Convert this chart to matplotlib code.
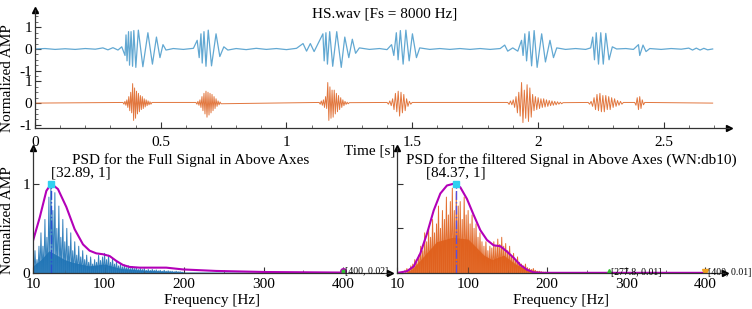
import numpy as np
import matplotlib
matplotlib.use("Agg")
import matplotlib.pyplot as plt
from matplotlib.ticker import MultipleLocator, FixedLocator

plt.rcParams['font.family'] = ['Liberation Serif', 'DejaVu Serif']
plt.rcParams['font.size'] = 11

# ---- time traces ----
# raw heart sound, upper trace: explicit (time, amplitude) vertices
blue_t = [0.00, 0.04, 0.08, 0.12, 0.16, 0.20, 0.24, 0.27, 0.29, 0.31, 0.33, 0.345, 0.352, 0.358,
          0.362, 0.366, 0.372, 0.376, 0.382, 0.388, 0.393, 0.401, 0.411, 0.429, 0.449, 0.467,
          0.483, 0.497, 0.509, 0.521, 0.55, 0.59, 0.63, 0.645, 0.653, 0.660, 0.665, 0.672, 0.680,
          0.689, 0.702, 0.720, 0.735, 0.751, 0.767, 0.80, 0.84, 0.88, 0.92, 0.96, 1.00, 1.04,
          1.066, 1.08, 1.095, 1.11, 1.13, 1.145, 1.150, 1.157, 1.163, 1.172, 1.184, 1.200, 1.218,
          1.232, 1.248, 1.262, 1.275, 1.29, 1.33, 1.37, 1.40, 1.418, 1.427, 1.437, 1.444, 1.453,
          1.464, 1.475, 1.488, 1.501, 1.517, 1.530, 1.57, 1.61, 1.65, 1.69, 1.73, 1.77, 1.81,
          1.85, 1.868, 1.880, 1.90, 1.92, 1.935, 1.941, 1.948, 1.955, 1.965, 1.975, 1.985, 1.997,
          2.015, 2.030, 2.048, 2.062, 2.075, 2.11, 2.15, 2.19, 2.21, 2.218, 2.225, 2.232, 2.241,
          2.250, 2.260, 2.270, 2.283, 2.296, 2.313, 2.35, 2.38, 2.400, 2.405, 2.418, 2.430, 2.445,
          2.49, 2.53, 2.57, 2.60, 2.615, 2.63, 2.645, 2.66, 2.675, 2.695]
blue_a = [0.0, 0.02, -0.02, 0.01, -0.02, 0.02, -0.01, 0.05, -0.04, 0.06, -0.05, 0.1, -0.12, -0.3,
          0.65, -0.55, 0.8, -0.75, 0.8, -0.8, 0.85, -0.85, 0.87, -0.82, 0.75, -0.7,
          0.55, -0.4, 0.2, -0.05, 0.02, -0.02, 0.03, 0.4, -0.4, 0.7, -0.65, 0.8, -0.8,
          0.87, -0.78, 0.7, -0.35, 0.1, -0.05, 0.02, -0.03, 0.03, -0.02, 0.02, -0.03, 0.03,
          0.25, -0.1, 0.25, -0.12, 0.35, 0.7, -0.55, 0.75, -0.7, 0.8, -0.8, 0.8, -0.85,
          0.55, -0.4, 0.45, -0.2, 0.05, -0.02, 0.02, -0.03, 0.2, -0.3, 0.75, -0.5, 0.85,
          -0.7, 0.87, -0.55, 0.7, -0.4, 0.05, -0.02, 0.02, -0.02, 0.02, -0.02, 0.02, -0.02,
          0.02, 0.18, -0.1, 0.05, -0.1, 0.4, -0.3, 0.7, -0.55, 0.8, -0.78, 0.85, -0.85,
          0.7, -0.6, 0.4, -0.4, 0.05, -0.02, 0.02, -0.02, 0.05, 0.55, -0.5, 0.75, -0.7,
          0.75, -0.7, 0.72, -0.5, 0.1, 0.0, 0.02, -0.02, 0.2, -0.3, 0.18, -0.12, 0.02,
          -0.02, 0.02, -0.01, 0.04, -0.05, 0.04, -0.05, 0.03, -0.04, 0.0]

# filtered trace: bursts as (start, end) and sampled amplitudes
burst_span = [(0.35, 0.465), (0.64, 0.74), (1.13, 1.25), (1.40, 1.50),
              (1.88, 2.10), (2.20, 2.34), (2.385, 2.425)]
burst_amp = [
    [0.03, -0.05, 0.08, -0.1, 0.15, -0.2, 0.3, -0.35, 0.5, -0.45, 0.9, -0.8, 0.7, -0.7, 0.55, -0.5,
     0.45, -0.4, 0.35, -0.3, 0.3, -0.25, 0.2, -0.18, 0.15, -0.12, 0.1, -0.08, 0.06, -0.05, 0.03],
    [0.03, -0.05, 0.08, -0.1, 0.15, -0.2, 0.3, -0.35, 0.45, -0.5, 0.55, -0.65, 0.5, -0.55, 0.45,
     -0.45, 0.4, -0.35, 0.3, -0.25, 0.2, -0.15, 0.1, -0.08, 0.05, -0.03],
    [0.03, -0.05, 0.1, -0.1, 0.15, -0.2, 0.3, -0.25, 0.95, -0.8, 0.75, -0.7, 0.6, -0.65, 0.6, -0.5,
     0.45, -0.4, 0.35, -0.3, 0.25, -0.2, 0.15, -0.12, 0.08, -0.06, 0.04, -0.03, 0.02],
    [0.03, -0.05, 0.1, -0.12, 0.2, -0.3, 0.45, -0.4, 0.55, -0.6, 0.5, -0.45, 0.4, -0.35, 0.2,
     -0.15, 0.08, -0.05, 0.03],
    [0.03, -0.06, 0.1, -0.08, 0.15, -0.2, 0.3, -0.45, 0.5, -0.6, 0.95, -0.9, 0.6, -0.7, 0.85, -0.85,
     0.7, -0.65, 0.4, -0.35, 0.3, -0.3, 0.25, -0.25, 0.2, -0.2, 0.2, -0.18, 0.15, -0.15, 0.12,
     -0.12, 0.1, -0.1, 0.08, -0.08, 0.06, -0.05, 0.04, -0.03, 0.02],
    [0.03, -0.05, 0.08, -0.15, 0.25, -0.3, 0.4, -0.35, 0.45, -0.4, 0.35, -0.4, 0.35, -0.3, 0.3,
     -0.3, 0.25, -0.2, 0.2, -0.15, 0.12, -0.1, 0.08, -0.05, 0.03],
    [0.03, -0.1, 0.25, -0.3, 0.3, -0.25, 0.15, -0.08, 0.03],
]
t_end = 2.695

# ---- PSD panels ----
env_full_f = [10, 18.4, 26.8, 33.0, 41.4, 51.9, 62.4, 72.9, 81.2, 89.6, 98.0, 106.4, 114.8,
              123.1, 131.5, 144.1, 177.6, 198.6, 240.5, 303.3, 400]
env_full = [0.36, 0.62, 0.92, 1.0, 0.94, 0.74, 0.49, 0.32, 0.25, 0.22, 0.21, 0.19, 0.135,
            0.09, 0.068, 0.06, 0.06, 0.04, 0.023, 0.011, 0.005]
spk_full = [0.1, 0.25, 0.15, 0.3, 0.45, 0.3, 0.6, 0.4, 0.85, 1.0, 0.7, 0.9, 0.5, 0.75,
            0.4, 0.6, 0.35, 0.5, 0.3, 0.45, 0.25, 0.35, 0.2, 0.3, 0.18, 0.25, 0.15, 0.2,
            0.12, 0.18, 0.1, 0.15, 0.12, 0.2, 0.14, 0.18, 0.22, 0.15, 0.2, 0.12, 0.16, 0.1, 0.13, 0.08,
            0.1, 0.07, 0.09, 0.06, 0.08, 0.05, 0.07, 0.05, 0.06, 0.04, 0.05, 0.04,
            0.05, 0.03, 0.04, 0.03, 0.04, 0.03, 0.035, 0.025, 0.03, 0.02, 0.03, 0.02, 0.025, 0.02,
            0.02, 0.015, 0.02, 0.015, 0.015, 0.01]
floor_full_f = [10, 20, 30, 40, 50, 60, 80, 100, 120, 150, 200, 400]
floor_full = [0.08, 0.15, 0.25, 0.2, 0.15, 0.12, 0.08, 0.1, 0.05, 0.03, 0.01, 0.005]

env_filt_f = [10, 22.6, 31.1, 39.5, 47.9, 56.4, 64.8, 73.2, 81.7, 90.1, 98.5, 107.0, 115.4,
              123.8, 132.3, 140.7, 149.1, 157.6, 166.0, 174.4, 182.9, 195.5, 400]
env_filt = [0.0, 0.02, 0.074, 0.22, 0.44, 0.70, 0.89, 0.98, 1.0, 0.96, 0.83, 0.65, 0.48,
            0.37, 0.31, 0.30, 0.24, 0.17, 0.09, 0.037, 0.007, 0.002, 0.002]
spk_filt = [0.03, 0.05, 0.04, 0.08, 0.1, 0.15, 0.12, 0.2, 0.3, 0.25, 0.45, 0.35,
            0.5, 0.4, 0.6, 0.45, 0.55, 0.75, 0.5, 0.7, 0.6, 0.85, 0.65, 0.8,
            0.95, 0.7, 0.9, 0.75, 0.8, 0.6, 0.85, 0.65, 0.7, 0.55, 0.65, 0.5,
            0.55, 0.4, 0.45, 0.35, 0.3, 0.35, 0.25, 0.3, 0.28, 0.35, 0.3, 0.38,
            0.32, 0.4, 0.3, 0.33, 0.25, 0.3, 0.2, 0.22, 0.15, 0.18, 0.12, 0.1,
            0.08, 0.1, 0.06, 0.05, 0.04, 0.05, 0.03, 0.02, 0.02, 0.015, 0.01, 0.01]
floor_filt_f = [20, 30, 40, 50, 60, 80, 100, 120, 130, 145, 160, 175, 190, 200]
floor_filt = [0.0, 0.05, 0.15, 0.25, 0.35, 0.4, 0.38, 0.2, 0.15, 0.2, 0.1, 0.04, 0.01, 0.0]

peak_full = (32.89, 1)
peak_filt = (84.37, 1)
end_full = (400, 0.02)
mark_filt = [(277.8, 0.01), (400, 0.01)]

c_blue_t = '#62a8d2'
c_orng_t = '#e2773f'
c_blue = '#1f74b6'
c_orng = '#e0601c'
c_mag = '#b300b8'
off = 2.5


def arrow_axes(ax):
    for s in ['top', 'right']:
        ax.spines[s].set_visible(False)
    for s in ['left', 'bottom']:
        ax.spines[s].set_color('#333333')
        ax.spines[s].set_linewidth(0.9)
    ax.plot(1, 0, '>', color='k', ms=5, transform=ax.transAxes, clip_on=False)
    ax.plot(0, 1, '^', color='k', ms=5, transform=ax.transAxes, clip_on=False)
    ax.tick_params(direction='in', length=4, width=0.8, colors='#333333', labelcolor='k')
    ax.tick_params(which='minor', direction='in', length=2, width=0.6, colors='#555555')
    ax.tick_params(axis='y', pad=2)
    ax.patch.set_alpha(0)


fig = plt.figure(figsize=(7.52, 3.09), dpi=100)

# ---- top: waveforms ----
ax = fig.add_axes([35 / 752, 181 / 309, 694 / 752, 118 / 309])
ax.plot(blue_t, np.array(blue_a) + off, color=c_blue_t, lw=0.9)
ot, oa = [0.0], [0.0]
for (t0, t1), amps in zip(burst_span, burst_amp):
    ot += list(np.linspace(t0, t1, len(amps)))
    oa += amps
ot.append(t_end)
oa.append(0.0)
ax.plot(ot, oa, color=c_orng_t, lw=0.7)
ax.set_xlim(0, 2.76)
ax.set_ylim(-1.15, 4.3)
ax.set_xticks([0, 0.5, 1, 1.5, 2, 2.5])
ax.set_xticklabels(['0', '0.5', '1', '1.5', '2', '2.5'])
ax.xaxis.set_minor_locator(MultipleLocator(0.1))
ax.set_yticks([-1, 0, 1, off - 1, off, off + 1])
ax.set_yticklabels(['-1', '0', '1', '-1', '0', '1'])
ax.yaxis.set_minor_locator(MultipleLocator(0.25))
arrow_axes(ax)
ax.tick_params(axis='x', pad=6)
ax.set_ylabel('Normalized AMP')
ax.yaxis.set_label_coords((14 - 35) / 694, 0.42)
fig.text(385 / 752, 1 - 14 / 309, 'HS.wav [Fs = 8000 Hz]', ha='center', va='center')
fig.text(370 / 752, 1 - 151 / 309, 'Time [s]', ha='center', va='center')


def psd_panel(rect, spk_f, spk, fl_f, fl, env_f, env, col, tx):
    a = fig.add_axes(rect)
    a.fill_between(fl_f, 0, fl, color=col, lw=0, alpha=0.9)
    zx, zy = [], []
    for f, h in zip(spk_f, spk):
        zx += [f, f + 1.25]
        zy += [h, 0.0]
    a.plot(zx, zy, color=col, lw=0.7, alpha=0.9)
    a.plot([spk_f[-1], 400], [0.005, 0.005], color=col, lw=1)
    a.plot(env_f, env, color=c_mag, lw=1.5)
    a.set_xlim(10, tx)
    a.set_ylim(0, 1.40)
    a.set_xticks([10, 100, 200, 300, 400])
    a.xaxis.set_minor_locator(FixedLocator([50, 150, 250, 350]))
    arrow_axes(a)
    a.set_xlabel('Frequency [Hz]', labelpad=2)
    return a


axl = psd_panel([33 / 752, 36 / 309, 357 / 752, 125 / 309], np.arange(10, 200, 2.5), spk_full,
                floor_full_f, floor_full, env_full_f, env_full, c_blue, 459)
axl.set_yticks([0, 1])
axl.set_ylabel('Normalized AMP')
axl.yaxis.set_label_coords((14 - 33) / 357, 0.42)
axl.plot([peak_full[0]] * 2, [0, peak_full[1]], color='#2a4fd0', lw=1, ls='-.')
axl.plot(*peak_full, 's', color='#30d0f0', ms=4)
axl.text(peak_full[0], peak_full[1] + 0.05, '[%.2f, %g]' % peak_full, ha='left', va='bottom')
axl.plot(*end_full, 'o', color=c_mag, ms=4)
axl.plot(*end_full, 'o', color='#30c030', ms=2)
axl.text(end_full[0] + 3, end_full[1], '[%g, %.2f]' % end_full, fontsize=7, va='center')
fig.text(191 / 752, 1 - 160 / 309, 'PSD for the Full Signal in Above Axes', ha='center', va='center')

axr = psd_panel([397 / 752, 36 / 309, 328 / 752, 125 / 309], np.arange(20, 200, 2.5), spk_filt,
                floor_filt_f, floor_filt, env_filt_f, env_filt, c_orng, 425)
axr.set_yticks([0, 0.5, 1])
axr.set_yticklabels([])
axr.plot([peak_filt[0]] * 2, [0, peak_filt[1]], color='#5a50e0', lw=1, ls='-.')
axr.plot(*peak_filt, 's', color='#30d0f0', ms=4)
axr.text(peak_filt[0], peak_filt[1] + 0.05, '[%.2f, %g]' % peak_filt, ha='center', va='bottom')
axr.plot(*mark_filt[0], '^', color='#30c030', ms=4)
axr.plot(*mark_filt[1], 'v', color='#f0a020', ms=4)
for f, v in mark_filt:
    axr.text(f + 3, v, '[%g, %.2f]' % (f, v), fontsize=7, va='center')
fig.text(571 / 752, 1 - 160 / 309, 'PSD for the filtered Signal in Above Axes (WN:db10)',
         ha='center', va='center')

fig.savefig('out.png', dpi=100)
